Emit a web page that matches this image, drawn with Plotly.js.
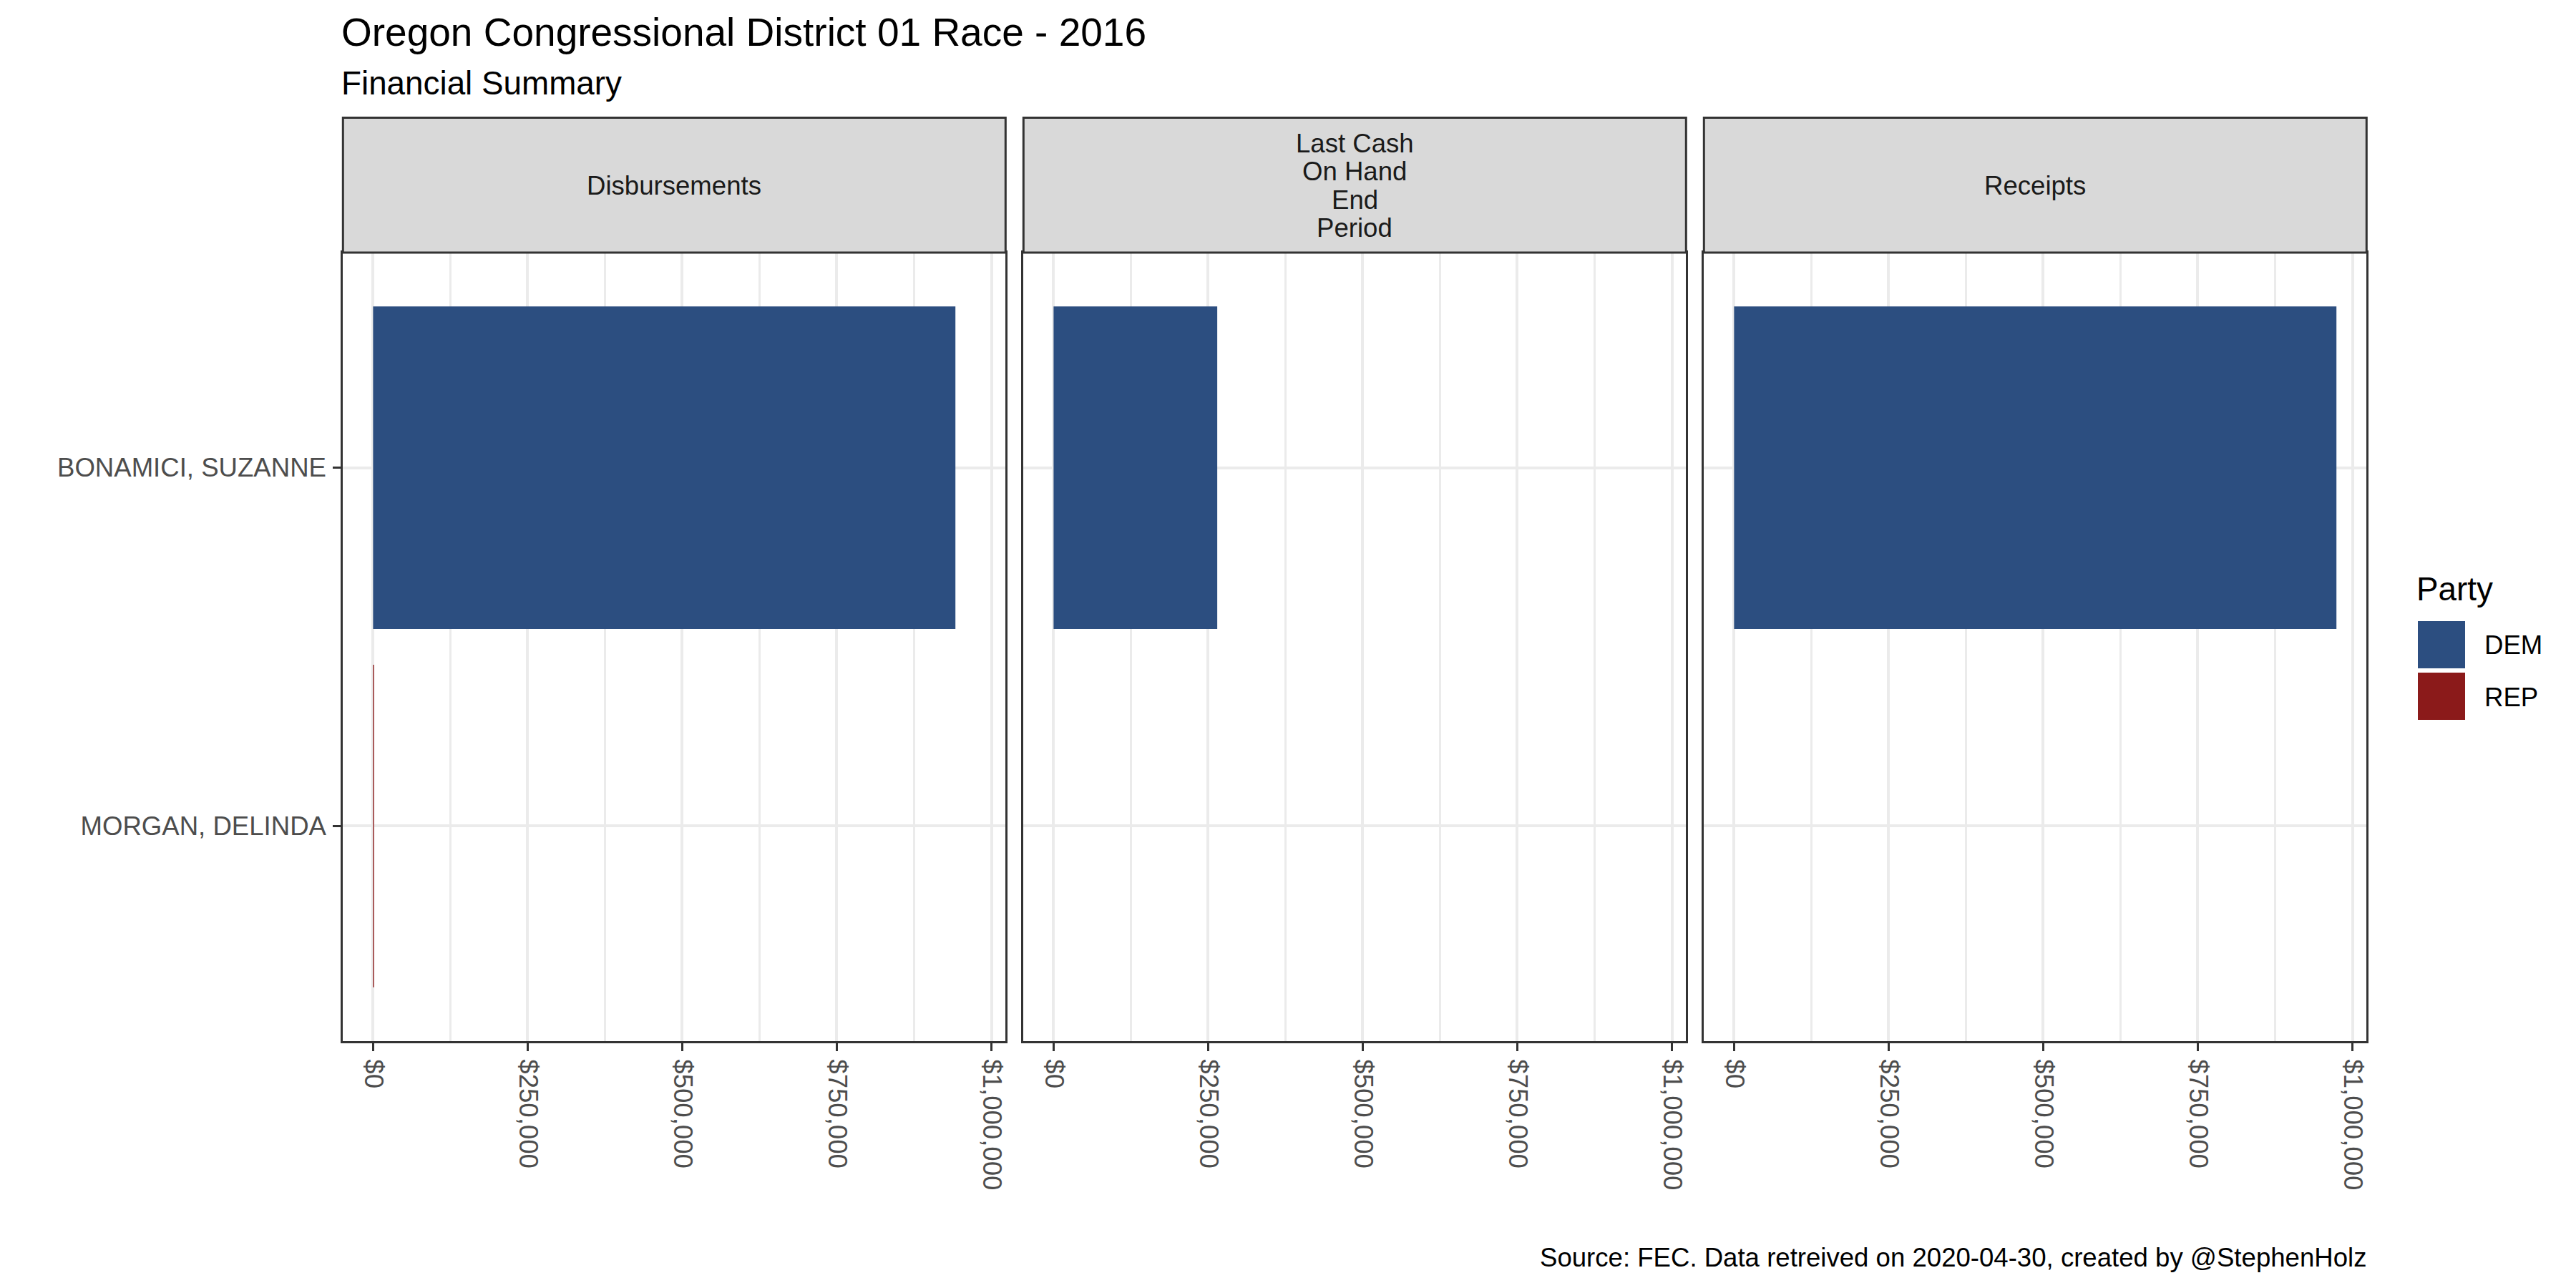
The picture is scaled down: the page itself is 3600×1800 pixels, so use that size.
<!DOCTYPE html>
<html>
<head>
<meta charset="utf-8">
<script src="https://cdn.plot.ly/plotly-3.0.1.min.js"></script>
<style>html,body{margin:0;padding:0;background:#fff;}#chart{width:3600px;height:1800px;}</style>
</head>
<body>
<div id="chart"></div>
<script>
// ---- data ----
const candidates = ['BONAMICI, SUZANNE', 'MORGAN, DELINDA'];
const candidateParty = ['DEM', 'REP'];
const partyNames = ['DEM', 'REP'];
const partyColors = ['#2C4E80', '#8B1A1A'];
const facetLabels = ['Disbursements', 'Last Cash\nOn Hand\nEnd\nPeriod', 'Receipts'];
const disbursements = [941800, 1600];
const cashOnHand = [264700, 0];
const receipts = [974200, 0];
const xTickVals = [0, 250000, 500000, 750000, 1000000];
const xTickText = ['$0', '$250,000', '$500,000', '$750,000', '$1,000,000'];
const titleText = 'Oregon Congressional District 01 Race - 2016';
const subtitleText = 'Financial Summary';
const captionText = 'Source: FEC. Data retreived on 2020-04-30, created by @StephenHolz';
const legendTitle = 'Party';

// ---- layout helpers (pixels -> paper) ----
const W = 3600, H = 1800;
const px = x => x / W;
const py = y => 1 - y / H;
const FONT = 'Liberation Sans, Arial, sans-serif';
const SMALL = 36.6, MED = 45.8, BIG = 55;
const panels = [[479.3, 1405.3], [1430.3, 2356.3], [2381.3, 3307.3]];
const panelTop = 353, panelBottom = 1455, stripTop = 164.5;
const border = '#333333', grid = '#EBEBEB';

const seriesByFacet = [disbursements, cashOnHand, receipts];
const maxVal = Math.max(...seriesByFacet.flat());
const xRange = [-0.05 * maxVal, 1.05 * maxVal];
const barColors = candidateParty.map(p => partyColors[partyNames.indexOf(p)]);

const traces = seriesByFacet.map((vals, i) => ({
  type: 'bar', orientation: 'h',
  x: vals, y: candidates,
  xaxis: i === 0 ? 'x' : 'x' + (i + 1),
  yaxis: i === 0 ? 'y' : 'y' + (i + 1),
  width: 0.9,
  marker: {color: barColors, line: {width: 0}},
  showlegend: false, hoverinfo: 'skip'
}));

const layout = {
  width: W, height: H,
  margin: {l: 0, r: 0, t: 0, b: 0, pad: 0},
  paper_bgcolor: '#ffffff', plot_bgcolor: '#ffffff',
  showlegend: false,
  font: {family: FONT, color: '#000000'},
  title: {text: titleText, x: px(477), xref: 'paper', xanchor: 'left',
          y: py(44.5), yref: 'paper', yanchor: 'middle',
          font: {family: FONT, size: BIG, color: '#000000'}},
  shapes: [], annotations: []
};

panels.forEach((p, i) => {
  const sx = i === 0 ? '' : String(i + 1);
  layout['xaxis' + sx] = {
    domain: [px(p[0]), px(p[1])], anchor: 'y' + sx, range: xRange,
    tickmode: 'array', tickvals: xTickVals, ticktext: xTickText,
    tickangle: 90, ticks: 'outside', ticklen: 11, tickwidth: 3, tickcolor: border,
    ticklabelstandoff: 4,
    tickfont: {family: FONT, size: SMALL, color: '#4D4D4D'},
    showgrid: true, gridcolor: grid, gridwidth: 4,
    minor: {tick0: 0, dtick: 125000, showgrid: true, gridcolor: grid, gridwidth: 2.5, ticks: ''},
    zeroline: false, showline: true, mirror: true, linecolor: border, linewidth: 3,
    fixedrange: true
  };
  const yax = {
    domain: [py(panelBottom), py(panelTop)], anchor: 'x' + sx,
    type: 'category', categoryorder: 'array', categoryarray: candidates,
    range: [1.6, -0.6],
    showgrid: true, gridcolor: grid, gridwidth: 4,
    zeroline: false, showline: true, mirror: true, linecolor: border, linewidth: 3,
    fixedrange: true
  };
  if (i === 0) {
    Object.assign(yax, {ticks: 'outside', ticklen: 11, tickwidth: 3, tickcolor: border,
      ticklabelstandoff: 2, tickfont: {family: FONT, size: SMALL, color: '#4D4D4D'}});
  } else {
    Object.assign(yax, {matches: 'y', ticks: '', showticklabels: false});
  }
  layout['yaxis' + sx] = yax;

  // facet strip
  layout.shapes.push({type: 'rect', xref: 'paper', yref: 'paper',
    x0: px(p[0]), x1: px(p[1]), y0: py(panelTop), y1: py(stripTop),
    fillcolor: '#D9D9D9', line: {color: border, width: 3}, layer: 'above'});
  const lines = facetLabels[i].split('\n');
  const mid = (stripTop + panelTop) / 2 + 1;
  const lh = 39.5;
  lines.forEach((t, k) => {
    layout.annotations.push({text: t, xref: 'paper', yref: 'paper',
      x: px((p[0] + p[1]) / 2), y: py(mid + (k - (lines.length - 1) / 2) * lh),
      xanchor: 'center', yanchor: 'middle', showarrow: false,
      font: {family: FONT, size: SMALL, color: '#1A1A1A'}});
  });
});

// subtitle & caption
layout.annotations.push({text: subtitleText, xref: 'paper', yref: 'paper',
  x: px(475), y: py(116.5), xanchor: 'left', yanchor: 'middle', showarrow: false,
  font: {family: FONT, size: MED, color: '#000000'}});
layout.annotations.push({text: captionText, xref: 'paper', yref: 'paper',
  x: px(3309), y: py(1757.5), xanchor: 'right', yanchor: 'middle', showarrow: false,
  font: {family: FONT, size: SMALL, color: '#000000'}});

// legend (manual, ggplot-sized keys)
layout.annotations.push({text: legendTitle, xref: 'paper', yref: 'paper',
  x: px(3375), y: py(823.5), xanchor: 'left', yanchor: 'middle', showarrow: false,
  font: {family: FONT, size: MED, color: '#000000'}});
partyNames.forEach((name, k) => {
  const top = 868 + k * 72;
  layout.shapes.push({type: 'rect', xref: 'paper', yref: 'paper',
    x0: px(3379), x1: px(3445), y0: py(top + 66), y1: py(top),
    fillcolor: partyColors[k], line: {width: 0}});
  layout.annotations.push({text: name, xref: 'paper', yref: 'paper',
    x: px(3470), y: py(top + 34), xanchor: 'left', yanchor: 'middle', showarrow: false,
    font: {family: FONT, size: SMALL, color: '#000000'}});
});

Plotly.newPlot('chart', traces, layout, {staticPlot: true, displayModeBar: false});
</script>
</body>
</html>
